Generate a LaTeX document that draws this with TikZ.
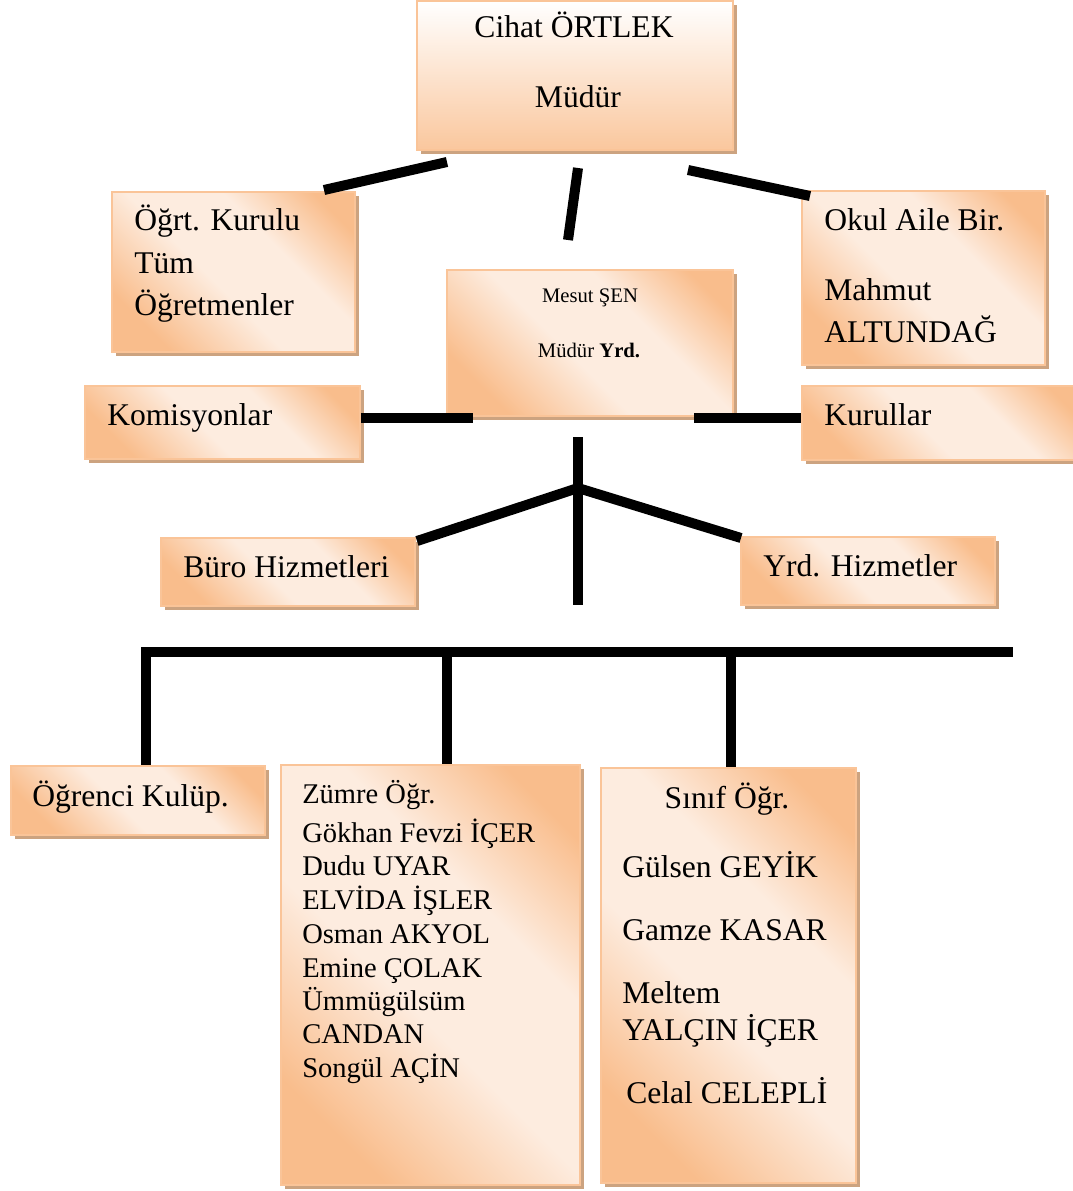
\documentclass[tikz,border=0pt]{standalone}
\usepackage{fontspec}
\setmainfont{Liberation Serif}
\usetikzlibrary{fit,shadows}
\definecolor{peachdk}{RGB}{249,189,140}
\definecolor{peachlt}{RGB}{253,236,223}
\definecolor{peachbd}{RGB}{250,196,152}
\definecolor{shadowtan}{RGB}{204,163,128}
\pgfdeclarehorizontalshading{peach}{100bp}{color(0bp)=(peachdk); color(25bp)=(peachdk); color(45bp)=(peachlt); color(62bp)=(peachlt); color(78bp)=(peachdk); color(100bp)=(peachdk)}
\tikzset{
  orgbox/.style={draw=peachbd, line width=1.3pt, shading=peach, shading angle=45, inner sep=0pt,
    drop shadow={shadow xshift=3pt, shadow yshift=-3pt, fill=shadowtan, opacity=1}},
  topbox/.style={orgbox, top color=white, bottom color=peachdk!85},
  lbl/.style={font=\fontsize{23.7}{28}\selectfont, inner sep=0pt, anchor=base west},
  small/.style={lbl, font=\fontsize{15.5}{18}\selectfont, anchor=base},
  namelist/.style={lbl, font=\fontsize{21.4}{25}\selectfont},
  link/.style={line width=7.5pt, black}
}
\begin{document}
\begin{tikzpicture}[x=0.75pt,y=-0.75pt]
\useasboundingbox (0,0) rectangle (1073,1191);
% boxes
\node[topbox, fit={(417,1) (733,150)}] (mudur) {};
\node[orgbox, fit={(112,192) (355,352)}] (ogrt) {};
\node[orgbox, fit={(802,191) (1045,365)}] (okul) {};
\node[orgbox, fit={(447,270) (733,416)}] (mudyrd) {};
\node[orgbox, fit={(85,386) (360,459)}] (komis) {};
\node[orgbox, fit={(802,386) (1085,460)}] (kurul) {};
\node[orgbox, fit={(161,538) (415,606)}] (buro) {};
\node[orgbox, fit={(741,537) (995,605)}] (yrdhiz) {};
\node[orgbox, fit={(11,766) (265,835)}] (ogrenci) {};
\node[orgbox, fit={(281,765) (580,1185)}] (zumre) {};
\node[orgbox, fit={(601,768) (856,1183)}] (sinif) {};
% texts
\node[lbl, anchor=base] (mudurname) at (574,38) {Cihat ÖRTLEK};
\node[lbl, anchor=base] (mudurtitle) at (578,108) {Müdür};
\node[lbl] (ogrt1) at (134,230) {Öğrt. Kurulu};
\node[lbl] (ogrt2) at (134,273) {Tüm};
\node[lbl] (ogrt3) at (134,315) {Öğretmenler};
\node[lbl] (okul1) at (824,230) {Okul Aile Bir.};
\node[lbl] (okul2) at (824,300) {Mahmut};
\node[lbl] (okul3) at (824,342) {ALTUNDAĞ};
\node[small] (yrdname) at (590,302) {Mesut ŞEN};
\node[small] (yrdtitle) at (589,357) {Müdür \textbf{Yrd.}};
\node[lbl] (komistxt) at (107,425) {Komisyonlar};
\node[lbl] (kurultxt) at (824,425) {Kurullar};
\node[lbl] (burotxt) at (183,577) {Büro Hizmetleri};
\node[lbl] (yrdhiztxt) at (763,576) {Yrd. Hizmetler};
\node[lbl] (ogrencitxt) at (32,806) {Öğrenci Kulüp.};
\node[namelist] (z1) at (302,803) {Zümre Öğr.};
\node[namelist] (z2) at (302,842) {Gökhan Fevzi İÇER};
\node[namelist] (z3) at (302,875) {Dudu UYAR};
\node[namelist] (z4) at (302,909) {ELVİDA İŞLER};
\node[namelist] (z5) at (302,943) {Osman AKYOL};
\node[namelist] (z6) at (302,977) {Emine ÇOLAK};
\node[namelist] (z7) at (302,1010) {Ümmügülsüm};
\node[namelist] (z8) at (302,1043) {CANDAN};
\node[namelist] (z9) at (302,1077) {Songül AÇİN};
\node[lbl, anchor=base] (s1) at (727,808) {Sınıf Öğr.};
\node[lbl] (s2) at (622,877) {Gülsen GEYİK};
\node[lbl] (s3) at (622,940) {Gamze KASAR};
\node[lbl] (s4) at (622,1003) {Meltem};
\node[lbl] (s5) at (622,1040) {YALÇIN İÇER};
\node[lbl] (s6) at (626,1103) {Celal CELEPLİ};
% connector ends
\coordinate (tl1) at (447,162); \coordinate (tl2) at (324,190);
\coordinate (tm1) at (578,168); \coordinate (tm2) at (568,240);
\coordinate (tr1) at (688,170); \coordinate (tr2) at (810,196);
\coordinate (kl) at (473,418); \coordinate (kr) at (694,418);
\coordinate (trunk) at (578,437); \coordinate (fork) at (578,488); \coordinate (trunkend) at (578,605);
\coordinate (bl) at (417,541); \coordinate (br) at (741,538);
\coordinate (bus1) at (141,652); \coordinate (bus2) at (447,652);
\coordinate (bus3) at (731,652); \coordinate (bus4) at (1013,652);
% connectors
\draw[link] (tl1) -- (tl2);
\draw[link] (tm1) -- (tm2);
\draw[link] (tr1) -- (tr2);
\draw[link] (komis.east |- kl) -- (kl);
\draw[link] (kr) -- (kurul.west |- kr);
\draw[link] (trunk) -- (trunkend);
\draw[link] (fork) -- (bl);
\draw[link] (fork) -- (br);
\draw[link] (bus1) -- (bus4);
\draw[link] ([xshift=3.75pt]bus1) -- ([xshift=3.75pt]bus1 |- ogrenci.north);
\draw[link] (bus2) -- (bus2 |- zumre.north);
\draw[link] (bus3) -- (bus3 |- sinif.north);
\end{tikzpicture}
\end{document}
